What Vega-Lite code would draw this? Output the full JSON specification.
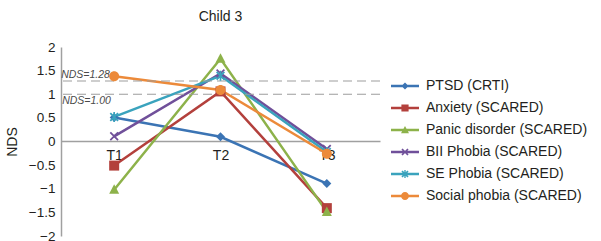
{
  "$schema": "https://vega.github.io/schema/vega-lite/v6.json",
  "width": 319,
  "height": 189,
  "autosize": "none",
  "padding": {"left": 61, "top": 47, "right": 221, "bottom": 5},
  "title": {"text": "Child 3", "fontSize": 14, "fontWeight": "normal", "font": "Liberation Sans", "color": "#231f20", "offset": 16, "anchor": "middle"},
  "config": {
    "view": {"stroke": null},
    "font": "Liberation Sans"
  },
  "datasets": {
    "scores": [
      {"time": "T1", "measure": "PTSD (CRTI)", "nds": 0.51},
      {"time": "T2", "measure": "PTSD (CRTI)", "nds": 0.10},
      {"time": "T3", "measure": "PTSD (CRTI)", "nds": -0.89},
      {"time": "T1", "measure": "Anxiety (SCARED)", "nds": -0.51},
      {"time": "T2", "measure": "Anxiety (SCARED)", "nds": 1.06},
      {"time": "T3", "measure": "Anxiety (SCARED)", "nds": -1.41},
      {"time": "T1", "measure": "Panic disorder (SCARED)", "nds": -1.02},
      {"time": "T2", "measure": "Panic disorder (SCARED)", "nds": 1.75},
      {"time": "T3", "measure": "Panic disorder (SCARED)", "nds": -1.49},
      {"time": "T1", "measure": "BII Phobia (SCARED)", "nds": 0.11},
      {"time": "T2", "measure": "BII Phobia (SCARED)", "nds": 1.44},
      {"time": "T3", "measure": "BII Phobia (SCARED)", "nds": -0.16},
      {"time": "T1", "measure": "SE Phobia (SCARED)", "nds": 0.52},
      {"time": "T2", "measure": "SE Phobia (SCARED)", "nds": 1.39},
      {"time": "T3", "measure": "SE Phobia (SCARED)", "nds": -0.22},
      {"time": "T1", "measure": "Social phobia (SCARED)", "nds": 1.38},
      {"time": "T2", "measure": "Social phobia (SCARED)", "nds": 1.09},
      {"time": "T3", "measure": "Social phobia (SCARED)", "nds": -0.26}
    ],
    "cutoffs": [
      {"time": "T1", "label": "NDS=1.28", "nds": 1.28, "pos": "above"},
      {"time": "T1", "label": "NDS=1.00", "nds": 1.00, "pos": "below"}
    ]
  },
  "encoding": {
    "y": {"field": "nds", "type": "quantitative",
      "scale": {"domain": [-2, 2], "nice": false, "zero": false},
      "axis": {"title": "NDS", "values": [-2, -1.5, -1, -0.5, 0, 0.5, 1, 1.5, 2], "labelExpr": "replace(datum.label, '.0', '')", "labelOverlap": false, "labelFlush": false, "grid": false, "ticks": false, "domainColor": "#a0a0a0", "domainWidth": 1.5, "labelFontSize": 13.5, "labelFont": "Liberation Sans", "labelColor": "#231f20", "labelPadding": 6, "titleFontSize": 14, "titleFont": "Liberation Sans", "titleFontWeight": "normal", "titleColor": "#231f20", "titlePadding": 9}}
  },
  "layer": [
    {
      "data": {"name": "scores"},
      "mark": {"type": "line", "strokeWidth": 2.5},
      "encoding": {
        "x": {"field": "time", "type": "nominal",
          "scale": {"type": "point", "padding": 0.5, "domain": ["T1", "T2", "T3"]},
          "axis": {"title": null, "orient": "bottom", "offset": -95, "labelAngle": 0, "ticks": false, "domainColor": "#a0a0a0", "domainWidth": 1.5, "labelFontSize": 14, "labelFont": "Liberation Sans", "labelColor": "#231f20", "labelPadding": 7, "grid": false}},
        "color": {"field": "measure", "type": "nominal", "legend": null,
          "scale": {"domain": ["PTSD (CRTI)", "Anxiety (SCARED)", "Panic disorder (SCARED)", "BII Phobia (SCARED)", "SE Phobia (SCARED)", "Social phobia (SCARED)"],
                    "range": ["#3b74b4", "#b3403c", "#8db24a", "#70509a", "#3aa3bd", "#ec8a3a"]}}
      }
    },
    {
      "data": {"name": "cutoffs"},
      "mark": {"type": "rule", "color": "#9d9d9d", "strokeWidth": 1.2, "strokeDash": [9, 5]},
      "encoding": {}
    },
    {
      "data": {"name": "cutoffs"},
      "transform": [{"filter": "datum.pos == 'above'"}],
      "mark": {"type": "text", "align": "left", "baseline": "bottom", "dx": -53, "dy": -1, "fontSize": 10.5, "fontStyle": "italic", "color": "#4a4a4a"},
      "encoding": {
        "x": {"field": "time", "type": "nominal"},
        "text": {"field": "label"}
      }
    },
    {
      "data": {"name": "cutoffs"},
      "transform": [{"filter": "datum.pos == 'below'"}],
      "mark": {"type": "text", "align": "left", "baseline": "top", "dx": -52, "dy": 2, "fontSize": 10.5, "fontStyle": "italic", "color": "#4a4a4a"},
      "encoding": {
        "x": {"field": "time", "type": "nominal"},
        "text": {"field": "label"}
      }
    },
    {
      "data": {"name": "scores"},
      "mark": {"type": "point", "filled": true, "opacity": 1, "size": 100},
      "encoding": {
        "x": {"field": "time", "type": "nominal"},
        "color": {"field": "measure", "type": "nominal", "legend": null,
          "scale": {"domain": ["PTSD (CRTI)", "Anxiety (SCARED)", "Panic disorder (SCARED)", "BII Phobia (SCARED)", "SE Phobia (SCARED)", "Social phobia (SCARED)"],
                    "range": ["#3b74b4", "#b3403c", "#8db24a", "#70509a", "#3aa3bd", "#ec8a3a"]}},
        "shape": {"field": "measure", "type": "nominal", "legend": null,
          "scale": {"domain": ["PTSD (CRTI)", "Anxiety (SCARED)", "Panic disorder (SCARED)", "BII Phobia (SCARED)", "SE Phobia (SCARED)", "Social phobia (SCARED)"],
                    "range": [
                      "M0,-0.9L0.9,0L0,0.9L-0.9,0Z",
                      "M-1,-1H1V1H-1Z",
                      "M0,-1.1L1,0.8H-1Z",
                      "M-0.9,-0.65L-0.65,-0.9L0.9,0.65L0.65,0.9Z M0.65,-0.9L0.9,-0.65L-0.65,0.9L-0.9,0.65Z",
                      "M-0.9,-0.65L-0.65,-0.9L0.9,0.65L0.65,0.9Z M0.65,-0.9L0.9,-0.65L-0.65,0.9L-0.9,0.65Z M-0.17,-1H0.17V1H-0.17Z",
                      "M-1,0A1,1 0 1,1 1,0A1,1 0 1,1 -1,0Z"
                    ]}}
      }
    },
    {
      "data": {"name": "scores"},
      "mark": {"type": "point", "filled": true, "opacity": 0, "size": 64},
      "encoding": {
        "x": {"field": "time", "type": "nominal"},
        "color": {"field": "measure", "type": "nominal",
          "scale": {"domain": ["PTSD (CRTI)", "Anxiety (SCARED)", "Panic disorder (SCARED)", "BII Phobia (SCARED)", "SE Phobia (SCARED)", "Social phobia (SCARED)"],
                    "range": ["#3b74b4", "#b3403c", "#8db24a", "#70509a", "#3aa3bd", "#ec8a3a"]},
          "legend": {"title": null, "orient": "none", "legendX": 337, "legendY": 32, "padding": 0, "symbolOpacity": 1, "symbolSize": 64, "symbolStrokeWidth": 0, "labelFontSize": 14, "labelFont": "Liberation Sans", "labelColor": "#231f20", "labelOffset": 14, "labelLimit": 300, "rowPadding": 8}},
        "shape": {"field": "measure", "type": "nominal",
          "scale": {"domain": ["PTSD (CRTI)", "Anxiety (SCARED)", "Panic disorder (SCARED)", "BII Phobia (SCARED)", "SE Phobia (SCARED)", "Social phobia (SCARED)"],
                    "range": [
                      "M-3.5,-0.3H3.5V0.3H-3.5Z M0,-0.9L0.9,0L0,0.9L-0.9,0Z",
                      "M-3.5,-0.3H3.5V0.3H-3.5Z M-0.9,-0.9H0.9V0.9H-0.9Z",
                      "M-3.5,-0.3H3.5V0.3H-3.5Z M0,-1L1,0.8H-1Z",
                      "M-3.5,-0.3H3.5V0.3H-3.5Z M-0.9,-0.6L-0.6,-0.9L0.9,0.6L0.6,0.9Z M0.6,-0.9L0.9,-0.6L-0.6,0.9L-0.9,0.6Z",
                      "M-3.5,-0.3H3.5V0.3H-3.5Z M-0.9,-0.6L-0.6,-0.9L0.9,0.6L0.6,0.9Z M0.6,-0.9L0.9,-0.6L-0.6,0.9L-0.9,0.6Z M-0.17,-1H0.17V1H-0.17Z",
                      "M-3.5,-0.3H3.5V0.3H-3.5Z M-1,0A1,1 0 1,1 1,0A1,1 0 1,1 -1,0Z"
                    ]},
          "legend": {"title": null, "orient": "none", "legendX": 337, "legendY": 32, "padding": 0, "symbolOpacity": 1, "symbolSize": 64, "symbolStrokeWidth": 0, "labelFontSize": 14, "labelFont": "Liberation Sans", "labelColor": "#231f20", "labelOffset": 14, "labelLimit": 300, "rowPadding": 8}}
      }
    }
  ],
  "resolve": {"scale": {"shape": "independent", "color": "independent"}}
}
